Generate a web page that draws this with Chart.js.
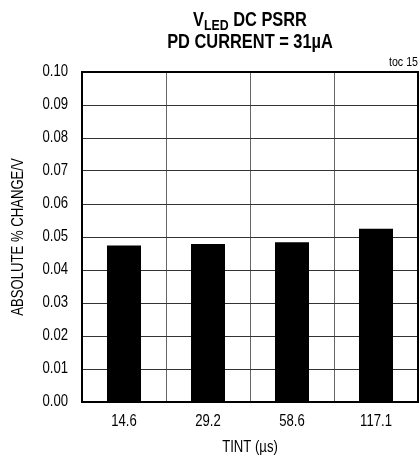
<!DOCTYPE html>
<html>
<head>
<meta charset="utf-8">
<script src="https://cdn.jsdelivr.net/npm/chart.js@4.4.0/dist/chart.umd.min.js"></script>
<style>
html,body{margin:0;padding:0;background:#fff;}
#wrap{width:419px;height:459px;position:relative;}
</style>
</head>
<body>
<div id="wrap"><canvas id="c" width="419" height="459"></canvas></div>
<script>
const categories = ["14.6", "29.2", "58.6", "117.1"];
const psrrValues = [0.0474, 0.0479, 0.0484, 0.0525];
const yTickValues = [0.00, 0.01, 0.02, 0.03, 0.04, 0.05, 0.06, 0.07, 0.08, 0.09, 0.10];
const titleLine1 = ["V", "LED", " DC PSRR"];
const titleLine2 = "PD CURRENT = 31µA";
const noteText = "toc 15";
const xTitle = "TINT (µs)";
const yTitle = "ABSOLUTE % CHANGE/V";

const FONT = "'Liberation Sans', Arial, sans-serif";
const SX = 0.82; // horizontal condensing to mimic a narrow face

function condText(ctx, text, x, y, font, align, baseline, rot) {
  ctx.save();
  ctx.font = font;
  ctx.textAlign = align;
  ctx.textBaseline = baseline;
  ctx.translate(x, y);
  if (rot) ctx.rotate(rot);
  ctx.scale(SX, 1);
  ctx.fillText(text, 0, 0);
  ctx.restore();
}
function condWidth(ctx, text, font) {
  ctx.save(); ctx.font = font; const w = ctx.measureText(text).width * SX; ctx.restore(); return w;
}

const decor = {
  id: 'decor',
  afterDraw(chart) {
    const ctx = chart.ctx;
    const a = chart.chartArea;
    const xs = chart.scales.x, ys = chart.scales.y;
    ctx.save();
    ctx.fillStyle = '#000';
    // frame
    ctx.strokeStyle = '#000';
    ctx.lineWidth = 2;
    ctx.strokeRect(a.left, a.top, a.right - a.left, a.bottom - a.top);
    const tickFont = "16px " + FONT;
    // y tick labels
    ys.ticks.forEach(t => {
      condText(ctx, Number(t.value).toFixed(2), a.left - 14, ys.getPixelForValue(t.value), tickFont, 'right', 'middle');
    });
    // x tick labels
    categories.forEach((c, i) => {
      condText(ctx, c, xs.getPixelForTick(i), 422, tickFont, 'center', 'middle');
    });
    // axis titles
    condText(ctx, xTitle, (a.left + a.right) / 2, 448, tickFont, 'center', 'middle');
    condText(ctx, yTitle, 18.5, (a.top + a.bottom) / 2, tickFont, 'center', 'middle', -Math.PI / 2);
    // title line 1 with subscript
    const big = "bold 20px " + FONT;
    const sub = "bold 15px " + FONT;
    const w1 = condWidth(ctx, titleLine1[0], big);
    const w2 = condWidth(ctx, titleLine1[1], sub);
    const w3 = condWidth(ctx, titleLine1[2], big);
    const cx = (a.left + a.right) / 2;
    let x = cx - (w1 + w2 + w3) / 2;
    condText(ctx, titleLine1[0], x, 26, big, 'left', 'alphabetic'); x += w1;
    condText(ctx, titleLine1[1], x, 30, sub, 'left', 'alphabetic'); x += w2;
    condText(ctx, titleLine1[2], x, 26, big, 'left', 'alphabetic');
    // title line 2
    condText(ctx, titleLine2, cx, 48, big, 'center', 'alphabetic');
    // note
    condText(ctx, noteText, a.right, 66, "13px " + FONT, 'right', 'alphabetic');
    ctx.restore();
  }
};

new Chart(document.getElementById('c'), {
  type: 'bar',
  data: {
    labels: categories,
    datasets: [{
      data: psrrValues,
      backgroundColor: '#000',
      borderWidth: 0,
      categoryPercentage: 1.0,
      barPercentage: 0.405
    }]
  },
  options: {
    responsive: false,
    animation: false,
    devicePixelRatio: 1,
    layout: { padding: { left: 0, right: 1, top: 72, bottom: 0 } },
    plugins: { legend: { display: false }, tooltip: { enabled: false }, title: { display: false } },
    scales: {
      x: {
        afterFit(s) { s.height = 57; },
        grid: { color: '#666', lineWidth: 1, drawTicks: false, offset: true },
        border: { display: false },
        ticks: { display: false }
      },
      y: {
        min: 0, max: 0.1,
        afterFit(s) { s.width = 82; },
        afterBuildTicks(s) { s.ticks = yTickValues.map(v => ({ value: v })); },
        grid: { color: '#333', lineWidth: 1, drawTicks: false },
        border: { display: false },
        ticks: { display: false }
      }
    }
  },
  plugins: [decor]
});
</script>
</body>
</html>
